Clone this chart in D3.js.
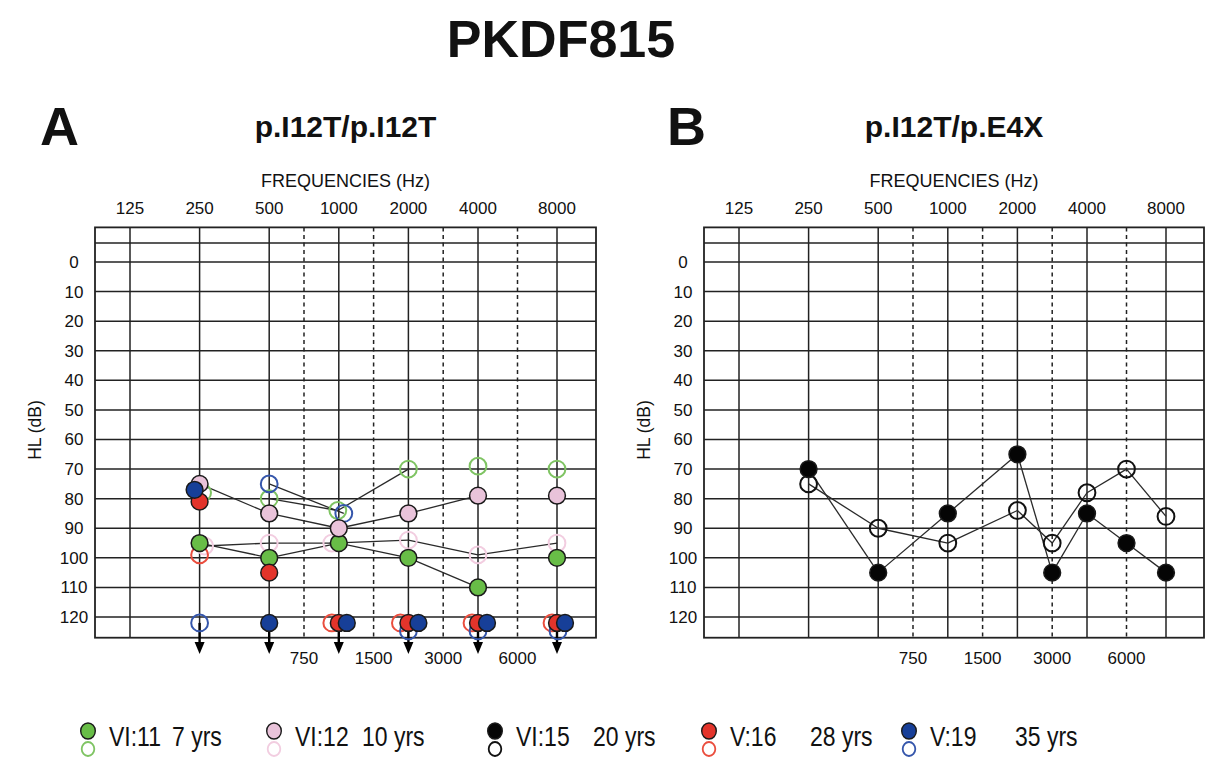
<!DOCTYPE html>
<html>
<head>
<meta charset="utf-8">
<script src="https://cdn.jsdelivr.net/npm/d3@7"></script>
<style>
body { margin: 0; background: #fff; }
text { font-family: "Liberation Sans", Arial, Helvetica, sans-serif; fill: #111; }
</style>
</head>
<body>
<script>
// tick labels
var freqTop = [125, 250, 500, 1000, 2000, 4000, 8000];
var freqMid = [750, 1500, 3000, 6000];
var dbTicks = [0, 10, 20, 30, 40, 50, 60, 70, 80, 90, 100, 110, 120];

var NR = "NR"; // no response (drawn below 120 with an arrow)

// panel A : p.I12T/p.I12T
var freqA = [250, 500, 1000, 2000, 4000, 8000];
var vi11FilledA = [95, 100, 95, 100, 110, 100];
var vi11OpenA   = [78, 80, 84, 70, 69, 70];
var vi12FilledA = [75, 85, 90, 85, 79, 79];
var vi12OpenA   = [96, 95, 95, 94, 99, 95];
var v16FilledA  = [81, 105, NR, NR, NR, NR];
var v16OpenA    = [99, null, NR, NR, NR, NR];
var v19FilledA  = [77, NR, NR, NR, NR, NR];
var v19OpenA    = [NR, 75, 85, NR, NR, NR];
// 1 = point i joined to point i+1
var vi11FilledJoin = [1, 1, 1, 1, 0];
var vi11OpenJoin   = [0, 1, 1, 0, 0];
var vi12FilledJoin = [1, 1, 1, 1, 0];
var vi12OpenJoin   = [1, 1, 1, 1, 1];
var v19OpenJoin    = [0, 1, 0, 0, 0];

// panel B : p.I12T/p.E4X
var freqB = [250, 500, 1000, 2000, 3000, 4000, 6000, 8000];
var vi15FilledB = [70, 105, 85, 65, 105, 85, 95, 105];
var vi15OpenB   = [75, 90, 95, 84, 95, 78, 70, 86];

// legend
var legendNames = ["VI:11", "VI:12", "VI:15", "V:16", "V:19"];
var legendAges  = ["7 yrs", "10 yrs", "20 yrs", "28 yrs", "35 yrs"];

var colors = {
    green: {fill: "#68bd47", ring: "#7fc463"},
    pink:  {fill: "#e9c3da", ring: "#f2cde0"},
    black: {fill: "#050505", ring: "#111"},
    red:   {fill: "#e3342b", ring: "#ea4e3e"},
    blue:  {fill: "#173f98", ring: "#3556ab"}
};

// small horizontal nudges (px) so overlapping symbols stay visible
var nudgeA = {
    v19f: [-5, 0, 8, 10, 9, 8],
    v16o: [0, 0, -7, -8, -6, -5],
    v19o: [0, 0, 5, 0, 0, 1],
    vi11o: [3, 0, -1, 0, 0, 0],
    vi12o: [5, 0, -7, 0, 0, 0]
};
var nrLevel = 122;

var svg = d3.select("body").append("svg")
    .attr("width", 1209)
    .attr("height", 772);

var y = d3.scaleLinear().domain([0, 120]).range([262, 617]);

function octIndex(f) {
    var o = Math.log2(f / 125), lo = Math.floor(o + 1e-9);
    return (o - lo < 1e-6) ? lo : lo + 0.5;
}

svg.append("text")
    .attr("x", 561).attr("y", 57)
    .attr("text-anchor", "middle")
    .style("font-size", "52px").style("font-weight", "bold")
    .text("PKDF815");

function audiogram(left, right, letter, letterX, title, freqs, series) {
    var x = d3.scaleLinear()
        .domain([-0.5, 0, 5, 6, 6.5])
        .range([left, left + 35, left + 383, left + 462, right]);
    var top = y(-11.7), bottom = y(127);
    var g = svg.append("g");
    var cx = (left + right) / 2;

    g.append("text").attr("x", letterX).attr("y", 145)
        .style("font-size", "54px").style("font-weight", "bold").text(letter);
    g.append("text").attr("x", cx).attr("y", 137).attr("text-anchor", "middle")
        .style("font-size", "30px").style("font-weight", "bold").text(title);
    g.append("text").attr("x", cx).attr("y", 187).attr("text-anchor", "middle")
        .style("font-size", "18px").text("FREQUENCIES (Hz)");

    // grid
    g.selectAll(".hline").data(dbTicks.concat([-6.4])).enter().append("line")
        .attr("x1", left).attr("x2", right)
        .attr("y1", function (d) { return y(d); })
        .attr("y2", function (d) { return y(d); })
        .attr("stroke", "#222").attr("stroke-width", 1.5);
    g.selectAll(".vline").data(freqTop).enter().append("line")
        .attr("x1", function (d) { return x(octIndex(d)); })
        .attr("x2", function (d) { return x(octIndex(d)); })
        .attr("y1", top).attr("y2", bottom)
        .attr("stroke", "#222").attr("stroke-width", 1.5);
    g.selectAll(".dline").data(freqMid).enter().append("line")
        .attr("x1", function (d) { return x(octIndex(d)); })
        .attr("x2", function (d) { return x(octIndex(d)); })
        .attr("y1", top).attr("y2", bottom)
        .attr("stroke", "#222").attr("stroke-width", 1.5)
        .attr("stroke-dasharray", "4,3.5");
    g.append("rect")
        .attr("x", left).attr("y", top)
        .attr("width", right - left).attr("height", bottom - top)
        .attr("fill", "none").attr("stroke", "#222").attr("stroke-width", 1.8);

    // axes labels
    var ya = g.append("g").attr("transform", "translate(" + left + ",0)")
        .call(d3.axisLeft(y).tickValues(dbTicks).tickSize(0));
    ya.select(".domain").remove();
    ya.selectAll("text").attr("x", -21).attr("text-anchor", "middle")
        .style("font-size", "17px").attr("fill", "#111");
    ya.attr("font-family", null);

    g.selectAll(".ftop").data(freqTop).enter().append("text")
        .attr("x", function (d) { return x(octIndex(d)); })
        .attr("y", 214).attr("text-anchor", "middle")
        .style("font-size", "17px").text(function (d) { return d; });
    g.selectAll(".fmid").data(freqMid).enter().append("text")
        .attr("x", function (d) { return x(octIndex(d)); })
        .attr("y", 664).attr("text-anchor", "middle")
        .style("font-size", "17px").text(function (d) { return d; });

    g.append("text")
        .attr("transform", "translate(" + (left - 54) + ",430) rotate(-90)")
        .attr("text-anchor", "middle").style("font-size", "17.5px").text("HL (dB)");

    // positions
    function pt(s, i) {
        var v = s.values[i];
        var dx = s.dx ? s.dx[i] : 0;
        var px = x(octIndex(freqs[i])) + dx;
        var py = v === NR ? y(nrLevel) + (s.nrDy ? s.nrDy(i) : 0) : y(v);
        return [px, py];
    }

    // arrows for no response
    var nrCols = freqs.map(function (f, i) {
        return series.some(function (s) { return s.values[i] === NR; }) ? i : -1;
    }).filter(function (i) { return i >= 0; });
    var tip = 654;
    nrCols.forEach(function (i) {
        var ax = x(octIndex(freqs[i]));
        g.append("line").attr("x1", ax).attr("x2", ax)
            .attr("y1", y(nrLevel)).attr("y2", tip - 8)
            .attr("stroke", "#000").attr("stroke-width", 2.4);
        g.append("path")
            .attr("d", "M" + (ax - 5) + "," + (tip - 12) + "L" + (ax + 5) + "," + (tip - 12) + "L" + ax + "," + tip + "Z")
            .attr("fill", "#000");
    });

    // connecting lines
    var line = d3.line();
    series.forEach(function (s) {
        if (!s.join) return;
        s.join.forEach(function (j, i) {
            var a = s.values[i], b = s.values[i + 1];
            if (!j || a == null || b == null || a === NR || b === NR) return;
            g.append("path").attr("d", line([pt(s, i), pt(s, i + 1)]))
                .attr("fill", "none").attr("stroke", "#2a2a2a").attr("stroke-width", 1.3);
        });
    });

    // markers: open first, then filled
    var ordered = series.filter(function (s) { return !s.filled; })
        .concat(series.filter(function (s) { return s.filled; }));
    ordered.forEach(function (s) {
        s.values.forEach(function (v, i) {
            if (v == null) return;
            var p = pt(s, i);
            var c = g.append("circle").attr("cx", p[0]).attr("cy", p[1]).attr("r", 8.4);
            if (s.filled) {
                c.attr("fill", colors[s.color].fill).attr("stroke", "#1a1a1a").attr("stroke-width", 1.5);
            } else {
                c.attr("fill", "none").attr("stroke", colors[s.color].ring).attr("stroke-width", 2);
            }
        });
    });
}

var redNR = function (i) { return v16OpenA[i] === NR ? 8 : 0; };

audiogram(95, 596, "A", 40, "p.I12T/p.I12T", freqA, [
    {values: vi11OpenA, join: vi11OpenJoin, color: "green", filled: false, dx: nudgeA.vi11o},
    {values: vi12OpenA, join: vi12OpenJoin, color: "pink", filled: false, dx: nudgeA.vi12o},
    {values: v16OpenA, color: "red", filled: false, dx: nudgeA.v16o},
    {values: v19OpenA, join: v19OpenJoin, color: "blue", filled: false, dx: nudgeA.v19o, nrDy: redNR},
    {values: vi11FilledA, join: vi11FilledJoin, color: "green", filled: true},
    {values: vi12FilledA, join: vi12FilledJoin, color: "pink", filled: true},
    {values: v16FilledA, color: "red", filled: true},
    {values: v19FilledA, color: "blue", filled: true, dx: nudgeA.v19f}
]);

audiogram(704, 1204, "B", 667, "p.I12T/p.E4X", freqB, [
    {values: vi15OpenB, join: [1, 1, 1, 1, 1, 1, 1], color: "black", filled: false},
    {values: vi15FilledB, join: [1, 1, 1, 1, 1, 1, 1], color: "black", filled: true}
]);

// legend
var legendColors = ["green", "pink", "black", "red", "blue"];
var legendX = [88, 274, 495, 709, 909];
var ageX = [172, 362, 593, 810, 1015];
var lg = svg.append("g");
legendNames.forEach(function (n, i) {
    var c = colors[legendColors[i]];
    lg.append("ellipse").attr("cx", legendX[i]).attr("cy", 731).attr("rx", 7.3).attr("ry", 8)
        .attr("fill", c.fill).attr("stroke", "#1a1a1a").attr("stroke-width", 1.4);
    lg.append("ellipse").attr("cx", legendX[i]).attr("cy", 749).attr("rx", 6.3).attr("ry", 7)
        .attr("fill", "none").attr("stroke", c.ring).attr("stroke-width", 1.8);
    lg.append("text").attr("transform", "translate(" + (legendX[i] + 21) + ",746) scale(1,1.18)")
        .style("font-size", "23px").text(n);
    lg.append("text").attr("transform", "translate(" + ageX[i] + ",746) scale(1,1.18)")
        .style("font-size", "23px").text(legendAges[i]);
});
</script>
</body>
</html>
